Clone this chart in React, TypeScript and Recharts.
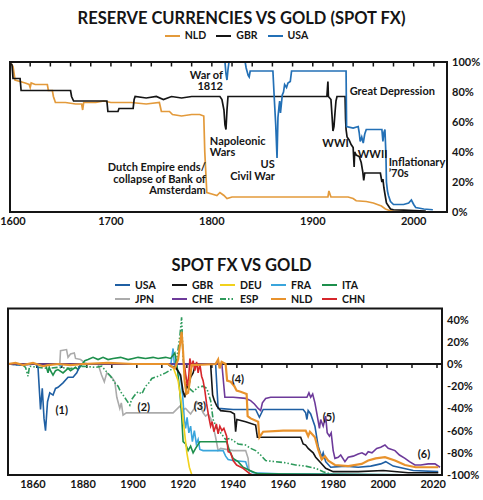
import React from 'react'
import { LineChart, Line, XAxis, YAxis, ReferenceLine, ReferenceArea, ReferenceDot } from 'recharts'

type Pt = [number, number]

// ---- Reserve currencies vs gold, % of original gold value ----
const RES_YEAR_TICKS = [1600, 1700, 1800, 1900, 2000]
const RES_PCT_TICKS = [0, 20, 40, 60, 80, 100]
const RES_MINOR_TICKS = [1620, 1640, 1660, 1680, 1700, 1720, 1740, 1760, 1780, 1800, 1820, 1840, 1860, 1880, 1900, 1920, 1940, 1960, 1980, 2000, 2020]

const NLD_RES: Pt[] = [
  [1601, 99], [1603, 97], [1605, 88], [1610, 87], [1615, 86], [1619, 85], [1620, 83], [1621, 86], [1625, 85], [1637, 85],
  [1638, 81], [1642, 81], [1643, 77], [1645, 73], [1655, 73], [1665, 72], [1671, 72], [1672, 68], [1673, 73], [1685, 73],
  [1693, 74], [1700, 73], [1710, 73], [1720, 73], [1735, 72], [1748, 73], [1750, 67], [1758, 67], [1761, 65], [1770, 64],
  [1780, 65], [1788, 65], [1792, 64], [1793, 40], [1795, 13], [1800, 12], [1805, 11], [1808, 13], [1812, 11], [1815, 9],
  [1820, 10], [1850, 10], [1880, 10], [1900, 10], [1915, 10], [1916, 14], [1918, 10], [1925, 10], [1935, 10], [1940, 9],
  [1943, 7.5], [1953, 7], [1960, 6], [1968, 4], [1972, 2], [1976, 1], [1980, 0.6], [2000, 0.4],
]

const GBR_RES: Pt[] = [
  [1601, 99], [1602, 98], [1603, 89], [1610, 89], [1611, 81], [1660, 81], [1661, 77], [1663, 74], [1696, 74], [1697, 67],
  [1707, 67], [1708, 69], [1722, 69], [1723, 75], [1724, 77], [1735, 76], [1745, 77], [1752, 75], [1760, 77], [1770, 76],
  [1780, 77], [1795, 77], [1808, 77], [1810, 75], [1812, 68], [1813, 58], [1814, 55], [1815, 68], [1816, 77], [1850, 77],
  [1880, 77], [1914, 77], [1915, 87], [1915.5, 77], [1918, 75], [1919, 65], [1920, 54], [1921, 57], [1922, 66], [1923, 74],
  [1924, 77], [1932, 77], [1932.5, 62], [1933, 55], [1934, 50], [1936, 48], [1938, 45], [1940, 43], [1941, 30], [1941.5, 40],
  [1943, 38], [1946, 37], [1948, 33], [1949.5, 27], [1950.5, 21], [1951.5, 26], [1967, 26], [1968.5, 20], [1969.5, 22], [1970.5, 16],
  [1972, 10], [1973, 6], [1975, 4], [1977, 2], [1980, 1.5], [1990, 1.2], [2000, 1], [2012, 0.6],
]

const USA_RES: Pt[] = [
  [1810, 100], [1813, 100], [1814, 92], [1815, 88], [1816, 95], [1817, 100], [1833, 100], [1834, 96], [1836, 91], [1837, 90],
  [1838, 94], [1860.5, 94], [1862, 74], [1863.3, 58], [1864.6, 36], [1865.5, 63], [1866.5, 70], [1867.2, 74], [1868, 66], [1869.8, 78],
  [1871, 80], [1872.1, 85], [1874, 83], [1875.4, 86], [1877.7, 87], [1879, 94], [1933, 94], [1933.5, 57], [1940, 56], [1945, 57],
  [1946, 53], [1947, 47], [1948.5, 50], [1950, 46], [1951.5, 52], [1953, 55], [1968.5, 55], [1969.5, 47], [1970.5, 53], [1971.5, 55],
  [1972.5, 38], [1973, 20], [1974, 14], [1975, 11], [1977, 7], [1980, 5], [1990, 5], [1995, 6], [1997.7, 8], [2000, 5],
  [2002, 3], [2010, 2], [2019, 1.5],
]

// ---- Spot FX vs gold, % change ----
const FX_YEAR_TICKS = [1860, 1880, 1900, 1920, 1940, 1960, 1980, 2000, 2020]
const FX_PCT_TICKS = [-100, -80, -60, -40, -20, 0, 20, 40]
const FX_MINOR_TICKS = [1861.5, 1871.5, 1881.5, 1891.5, 1901.5, 1911.5, 1921.5, 1931.5, 1941.5, 1951.5, 1961.5, 1971.5, 1981.5, 1991.5, 2001.5, 2011.5, 2021.5]

const USA_FX: Pt[] = [
  [1850, 0], [1855, -1], [1861, 0], [1862, -3], [1863, -41], [1863.7, -22], [1864.4, -49], [1865, -60], [1865.8, -34], [1866.7, -26],
  [1868, -28], [1869, -22], [1870, -21], [1872, -17], [1874, -12], [1876, -12], [1877.5, -8], [1879, 0], [1933, 0], [1934, -40],
  [1940, -41], [1949, -41], [1950.5, -48], [1952, -41], [1968, -41], [1969, -44], [1969.5, -50], [1970, -42], [1971, -45], [1972.7, -56],
  [1974, -74], [1975.4, -84], [1976, -80], [1977, -88], [1979, -93], [1985, -92], [1990, -93], [1995, -92], [1999, -90], [2001, -88],
  [2004, -92], [2008, -94], [2012, -96], [2022, -97],
]

const GBR_FX: Pt[] = [
  [1850, 0], [1914, 0], [1915, -2], [1917, -3], [1919, -10], [1920, -25], [1920.7, -30], [1921.5, -18], [1922, -22], [1923, -12],
  [1924, -8], [1925, 0], [1931, 0], [1931.8, -28], [1932.5, -33], [1933.5, -38], [1935, -42], [1939, -43], [1940.5, -45], [1941, -61],
  [1941.5, -50], [1945, -52], [1949, -55], [1949.7, -66], [1960, -66], [1967, -66], [1968, -72], [1969, -73], [1970, -76], [1972, -80],
  [1973, -84], [1975, -89], [1977, -94], [1980, -97], [1990, -97], [2000, -96], [2010, -98], [2022, -98],
]

const DEU_FX: Pt[] = [
  [1850, 0], [1914, 0], [1916, -3], [1918, -15], [1919, -30], [1919.6, -41], [1920.5, -60], [1921.5, -80], [1922.5, -93], [1923.5, -100],
]

const FRA_FX: Pt[] = [
  [1850, 0], [1870, 0], [1871, -2], [1872, 0], [1914, 0], [1915, -2], [1916, 14], [1916.6, -3], [1918, -6], [1919, -12],
  [1919.8, -28], [1920.5, -50], [1921, -58], [1921.6, -48], [1922.3, -62], [1923, -56], [1923.7, -70], [1924.5, -60], [1925.3, -72], [1926, -68],
  [1926.7, -77], [1928, -78], [1936, -78], [1937, -83], [1938, -86], [1940, -87], [1945, -88], [1946, -95], [1948, -98], [1958, -99],
  [2022, -100],
]

const ITA_FX: Pt[] = [
  [1850, 0], [1865, 0], [1866, -8], [1866.5, -3], [1867, -6], [1868, -10], [1869, -6], [1870, -5], [1872, -8], [1874, -4],
  [1875, -6], [1877, -3], [1878, -5], [1879, -2], [1880.7, 3], [1882, 4], [1884, 6], [1886, 4], [1888, 6], [1890, 4],
  [1892, 5], [1895, 6], [1898, 4], [1900, 5], [1902, 6], [1905, 5], [1908, 6], [1910, 5], [1913, 6], [1915, 5],
  [1916.7, 10], [1917.5, 0], [1918.7, -25], [1919.4, -46], [1920, -70], [1921, -72], [1922, -78], [1923, -74], [1924, -80], [1925, -76],
  [1926.7, -70], [1937.4, -70], [1938.7, -79], [1940, -85], [1942, -88], [1944, -93], [1946.7, -96], [1950, -99], [2022, -100],
]

const JPN_FX: Pt[] = [
  [1870.7, 0], [1871, 12], [1873.4, 13], [1874, 6], [1875, 9], [1876.5, 10], [1877, 5], [1879, 4], [1880.7, 1], [1882, 0],
  [1886, 0], [1887.4, -10], [1888.5, -16], [1889.5, -8], [1890.5, -10], [1891.5, -12], [1892.7, -16], [1893.5, -30], [1894.7, -40], [1895.3, -35],
  [1896, -46], [1897.3, -44], [1916, -44], [1918.7, -38], [1920, -41], [1921, -40], [1923, -45], [1924.5, -40], [1925.5, -34], [1926.7, -37],
  [1928, -44], [1929, -47], [1930, -45], [1931, -49], [1932, -56], [1933, -66], [1934, -78], [1935, -76], [1940, -78], [1945, -78],
  [1946, -85], [1946.5, -99], [1948, -100],
]

const CHE_FX: Pt[] = [
  [1850, 0], [1935.5, 0], [1936.7, -30], [1940, -30], [1945, -31], [1947, -33], [1948.5, -36], [1950, -40], [1951, -42], [1951.7, -35],
  [1953, -31], [1955, -30], [1969.5, -30], [1970.3, -26], [1971, -30], [1971.8, -27], [1972.7, -35], [1973.5, -45], [1974.5, -58], [1975, -50],
  [1976, -56], [1977, -47], [1977.6, -62], [1978.5, -65], [1979.2, -62], [1980, -78], [1980.7, -85], [1982, -84], [1983, -82], [1984.7, -88],
  [1986, -84], [1988, -83], [1990, -81], [1991.5, -80], [1993, -82], [1994, -79], [1995.5, -80], [1997.4, -76], [1999, -75], [2000.7, -73],
  [2002, -76], [2004.7, -78], [2006.5, -82], [2008.7, -85], [2010.5, -88], [2012.7, -91], [2015, -91], [2018, -90], [2020.7, -90], [2022.7, -93],
]

const ESP_FX: Pt[] = [
  [1850, 0], [1856, -1], [1857, -3], [1858, -11], [1858.6, -2], [1862, -3], [1866, -4], [1870, -3], [1875, -4], [1880, -2],
  [1885, -3], [1887.5, -2], [1889, -6], [1891, -11], [1892.7, -17], [1894, -20], [1895, -25], [1896, -28], [1897.5, -33], [1898.7, -37],
  [1899.4, -32], [1900.7, -28], [1902, -25], [1903.5, -27], [1905, -20], [1906, -18], [1907.5, -13], [1910, -11], [1913, -8], [1916, -4],
  [1917.5, 5], [1918.7, 25], [1919.4, 42], [1920, 5], [1921, -12], [1922.5, -22], [1924, -25], [1926, -21], [1928, -20], [1929.5, -22],
  [1931, -33], [1932, -50], [1933.5, -58], [1935, -62], [1937, -68], [1938.7, -67], [1940, -69], [1942, -72], [1945, -73], [1947, -76],
  [1949, -78], [1951, -82], [1953, -87], [1957, -88], [1961, -89], [1965, -91], [1969, -92], [1973, -94], [1976, -97], [1980, -100],
]

const NLD_FX: Pt[] = [
  [1850, 0], [1853, 1], [1856, -1], [1860, 1], [1864, -2], [1866, -1], [1870, 0], [1875, -1], [1880, 0], [1890, 1],
  [1900, 0], [1914, 0], [1916.7, -4], [1918, 4], [1919.4, 29], [1920, 11], [1920.6, -15], [1921.3, -27], [1922, -26], [1922.7, -15],
  [1923.4, -1], [1933, 0], [1934, 4], [1934.6, -4], [1935.4, 2], [1937, 0], [1937.6, -15], [1939, -16], [1940.5, -20], [1941.4, -24],
  [1943, -25], [1945.4, -27], [1945.8, -47], [1947, -49], [1950, -52], [1950.5, -66], [1952, -61], [1960, -60], [1969, -60], [1970, -65],
  [1970.7, -61], [1972.7, -66], [1974, -77], [1975.4, -86], [1976.7, -83], [1978, -87], [1980.7, -91], [1986, -92], [1991.4, -90], [1994, -87],
  [1997, -85], [2000.7, -84], [2004.7, -87], [2008.7, -91], [2013, -93], [2022, -93],
]

const CHN_FX: Pt[] = [
  [1920.5, 0], [1921, -9], [1921.7, -20], [1922.3, -10], [1922.7, 5], [1923.4, -3], [1924, 3], [1924.7, -6], [1925.4, 2], [1926, -8],
  [1926.7, 0], [1927.4, -11], [1928, -15], [1928.7, -24], [1929.4, -36], [1930.3, -48], [1931, -56], [1931.6, -52], [1932.3, -61], [1933.3, -54],
  [1934, -63], [1934.7, -56], [1935.5, -60], [1936.3, -58], [1937.4, -65], [1938, -79], [1939, -80], [1940, -87], [1941.4, -91], [1944, -94],
  [1946.7, -99], [1948, -100],
]

const RES_NOTES = [
  { year: 1811, value: 88.7, lines: ['War of', '1812'], anchor: 'end' },
  { year: 1798, value: 44.7, lines: ['Napoleonic', 'Wars'], anchor: 'start' },
  { year: 1862.4, value: 29.3, lines: ['US', 'Civil War'], anchor: 'end' },
  { year: 1794, value: 27.3, lines: ['Dutch Empire ends/', 'collapse of Bank of', 'Amsterdam'], anchor: 'end' },
  { year: 1936.6, value: 78, lines: ['Great Depression'], anchor: 'start' },
  { year: 1909.5, value: 43.3, lines: ['WWI'], anchor: 'start' },
  { year: 1944.6, value: 36, lines: ['WWII'], anchor: 'start' },
  { year: 1975.2, value: 30.7, lines: ['Inflationary', '\u201970s'], anchor: 'start' },
]

const FX_NOTES = [
  { year: 1871.5, value: -45, lines: ['(1)'], anchor: 'middle' },
  { year: 1904.3, value: -42.3, lines: ['(2)'], anchor: 'middle' },
  { year: 1926.7, value: -41.4, lines: ['(3)'], anchor: 'middle' },
  { year: 1941.9, value: -17.1, lines: ['(4)'], anchor: 'middle' },
  { year: 1978.3, value: -51.4, lines: ['(5)'], anchor: 'middle' },
  { year: 2016.3, value: -84.7, lines: ['(6)'], anchor: 'middle' },
]

const FONT = 'Lato, "DejaVu Sans", sans-serif'
const INK = '#151515'

const rows = (pts: Pt[]) => pts.map(([year, v]) => ({ year, v }))

const RES_SERIES = [
  { name: 'NLD', pts: NLD_RES, color: '#e39a3b' },
  { name: 'GBR', pts: GBR_RES, color: INK },
  { name: 'USA', pts: USA_RES, color: '#2370b6' },
]

const FX_SERIES = [
  { name: 'USA', pts: USA_FX, color: '#1f5fa3' },
  { name: 'GBR', pts: GBR_FX, color: INK },
  { name: 'DEU', pts: DEU_FX, color: '#f1d11c' },
  { name: 'FRA', pts: FRA_FX, color: '#39a5dc' },
  { name: 'ITA', pts: ITA_FX, color: '#1d8f4c' },
  { name: 'JPN', pts: JPN_FX, color: '#ababab' },
  { name: 'CHE', pts: CHE_FX, color: '#6d3a9a' },
  { name: 'ESP', pts: ESP_FX, color: '#2e9a5c', dash: '6 2 1.5 2 1.5 2' },
  { name: 'NLD', pts: NLD_FX, color: '#e8922c' },
  { name: 'CHN', pts: CHN_FX, color: '#d6262b' },
]
// back-to-front drawing order for the FX panel
const FX_DRAW_ORDER = ['JPN', 'ESP', 'FRA', 'ITA', 'DEU', 'USA', 'GBR', 'CHE', 'CHN', 'NLD']

const tickStyle = { fill: INK, fontSize: 11, fontFamily: FONT, fontWeight: 700 }

function Note({ viewBox, lines, anchor }: any) {
  const x = viewBox?.x ?? 0
  const y = viewBox?.y ?? 0
  return (
    <text x={x} y={y} textAnchor={anchor} fill={INK} fontSize={11} fontFamily={FONT} fontWeight={700}>
      {lines.map((l: string, i: number) => (
        <tspan key={i} x={x} dy={i ? 11.5 : 0}>{l}</tspan>
      ))}
    </text>
  )
}

// keeps the first year label inside the left edge
function YearTick({ x, y, payload }: any) {
  return (
    <text x={Math.max(x, 13)} y={y} dy="0.71em" textAnchor="middle" {...tickStyle}>
      {payload.value}
    </text>
  )
}

function Swatch({ color, dash }: { color: string; dash?: string }) {
  return (
    <svg width={15} height={4} style={{ marginRight: 5, display: 'block' }}>
      <line x1={0} y1={2} x2={15} y2={2} stroke={color} strokeWidth={2} strokeDasharray={dash} />
    </svg>
  )
}

function LegendItem({ name, color, dash, width }: { name: string; color: string; dash?: string; width?: number }) {
  return (
    <div style={{ display: 'flex', alignItems: 'center', width, marginRight: width ? 0 : 10 }}>
      <Swatch color={color} dash={dash} />
      <span>{name}</span>
    </div>
  )
}

const titleStyle: React.CSSProperties = {
  position: 'absolute', left: 0, width: 483, textAlign: 'center', fontFamily: FONT, fontWeight: 700,
  fontSize: 16.5, color: INK, lineHeight: '18px',
}
const legendText: React.CSSProperties = { fontFamily: FONT, fontWeight: 700, fontSize: 10.5, color: INK, lineHeight: '13px' }
const FX_LEGEND_COLS = [57, 48, 51, 51, 50]

function ReserveChart() {
  return (
    <LineChart width={483} height={240} margin={{ top: 62, right: 0, bottom: 8, left: 10 }}>
      <XAxis type="number" dataKey="year" domain={[1600, 2033]} ticks={RES_YEAR_TICKS} allowDataOverflow interval={0}
        axisLine={false} tickLine={false} tickSize={4} tickMargin={1} height={20} tick={<YearTick />} />
      <YAxis type="number" orientation="right" domain={[0, 100]} ticks={RES_PCT_TICKS} allowDataOverflow width={36} interval={0}
        axisLine={false} tickLine={false} tickSize={4} tickMargin={1} tick={tickStyle} tickFormatter={(v) => `${v}%`} />
      {RES_SERIES.map((s) => (
        <Line key={s.name} data={rows(s.pts)} dataKey="v" type="linear" stroke={s.color} strokeWidth={1.7}
          dot={false} activeDot={false} isAnimationActive={false} />
      ))}
      <ReferenceArea x1={1600} x2={2033} y1={0} y2={100} fill="none" stroke={INK} strokeWidth={2} ifOverflow="visible" zIndex={1000} />
      {RES_MINOR_TICKS.map((yr) => (
        <ReferenceLine key={yr} segment={[{ x: yr, y: 100 }, { x: yr, y: 97 }]} stroke={INK} strokeWidth={1.5} ifOverflow="visible" />
      ))}
      {RES_NOTES.map((n, i) => (
        <ReferenceDot key={i} x={n.year} y={n.value} r={0} fill="none" stroke="none" ifOverflow="visible"
          label={{ content: (p: any) => <Note viewBox={p.viewBox} lines={n.lines} anchor={n.anchor} /> }} />
      ))}
    </LineChart>
  )
}

function FxChart() {
  const byName = Object.fromEntries(FX_SERIES.map((s) => [s.name, s]))
  return (
    <LineChart width={483} height={200} margin={{ top: 8.5, right: 0, bottom: 5, left: 8 }}>
      <XAxis type="number" dataKey="year" domain={[1850, 2023.5]} ticks={FX_YEAR_TICKS} allowDataOverflow interval={0}
        axisLine={false} tickLine={false} tickSize={4} tickMargin={1} height={20} tick={tickStyle} />
      <YAxis type="number" orientation="right" domain={[-100, 50]} ticks={FX_PCT_TICKS} allowDataOverflow width={41} interval={0}
        axisLine={false} tickLine={false} tickSize={4} tickMargin={1} tick={tickStyle} tickFormatter={(v) => `${v}%`} />
      <ReferenceLine y={0} stroke={INK} strokeWidth={2} />
      {FX_MINOR_TICKS.map((yr) => (
        <ReferenceLine key={yr} segment={[{ x: yr, y: 0 }, { x: yr, y: -3.5 }]} stroke={INK} strokeWidth={1.5} />
      ))}
      {FX_DRAW_ORDER.map((name) => {
        const s = byName[name]
        return (
          <Line key={name} data={rows(s.pts)} dataKey="v" type="linear" stroke={s.color}
            strokeWidth={name === 'NLD' ? 2.2 : 1.6} strokeDasharray={s.dash}
            dot={false} activeDot={false} isAnimationActive={false} />
        )
      })}
      <ReferenceArea x1={1850} x2={2023.5} y1={-100} y2={50} fill="none" stroke={INK} strokeWidth={2} ifOverflow="visible" zIndex={1000} />
      {FX_NOTES.map((n, i) => (
        <ReferenceDot key={i} x={n.year} y={n.value} r={0} fill="none" stroke="none" ifOverflow="visible"
          label={{ content: (p: any) => <Note viewBox={p.viewBox} lines={n.lines} anchor={n.anchor} /> }} />
      ))}
    </LineChart>
  )
}

export default function App() {
  return (
    <div style={{ position: 'absolute', left: 0, top: 0, width: 483, height: 500, background: '#fff', overflow: 'hidden' }}>
      <div style={{ ...titleStyle, top: 9 }}>RESERVE CURRENCIES VS GOLD (SPOT FX)</div>
      <div style={{ ...legendText, position: 'absolute', top: 29, left: 0, width: 483, display: 'flex', justifyContent: 'center' }}>
        {RES_SERIES.map((s) => <LegendItem key={s.name} name={s.name} color={s.color} />)}
      </div>
      <div style={{ position: 'absolute', left: 0, top: 0 }}>
        <ReserveChart />
      </div>

      <div style={{ ...titleStyle, top: 256 }}>SPOT FX VS GOLD</div>
      <div style={{ ...legendText, position: 'absolute', top: 278, left: 115 }}>
        {[FX_SERIES.slice(0, 5), FX_SERIES.slice(5)].map((row, r) => (
          <div key={r} style={{ display: 'flex', height: 14 }}>
            {row.map((s, c) => <LegendItem key={s.name} name={s.name} color={s.color} dash={s.dash} width={FX_LEGEND_COLS[c]} />)}
          </div>
        ))}
      </div>
      <div style={{ position: 'absolute', left: 0, top: 300 }}>
        <FxChart />
      </div>
    </div>
  )
}
